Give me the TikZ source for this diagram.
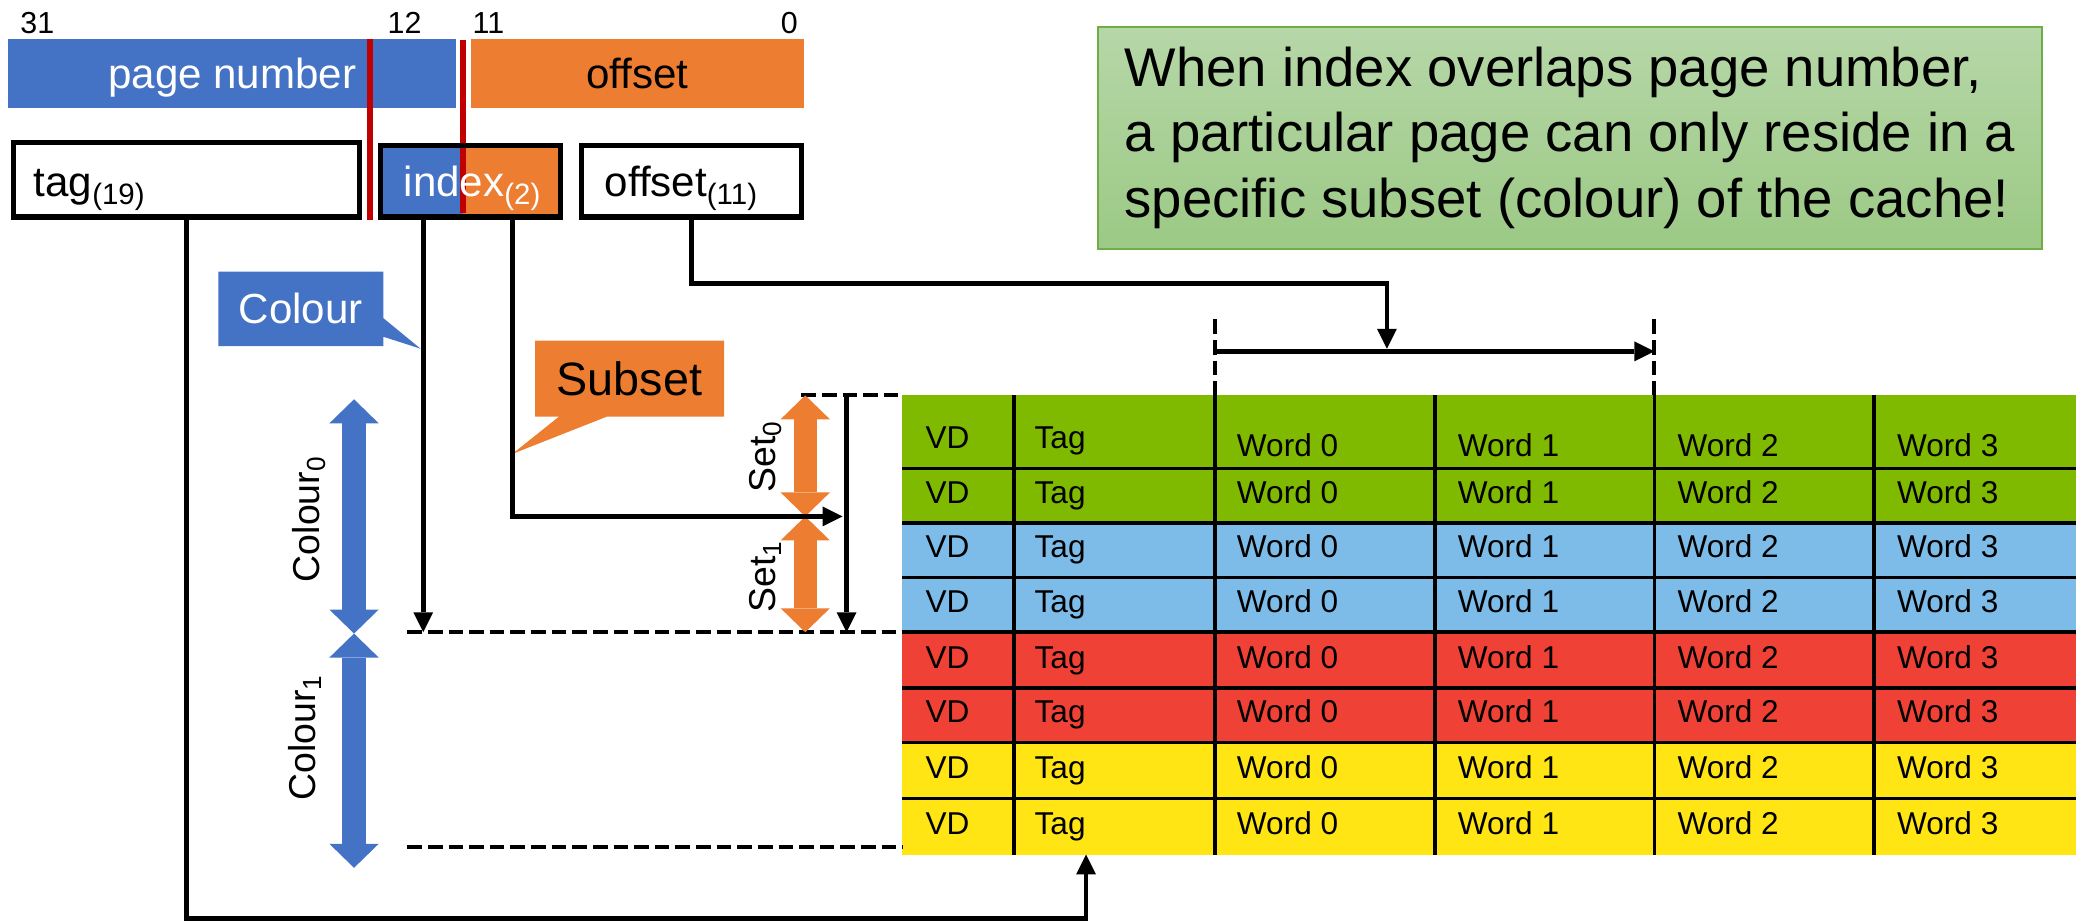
\documentclass[tikz,border=0pt]{standalone}
\usepackage{fontspec}
\setmainfont{Liberation Sans}
\usetikzlibrary{arrows.meta,shapes.callouts}

\definecolor{pageblue}{HTML}{4472C4}
\definecolor{offorange}{HTML}{ED7D31}
\definecolor{splitred}{HTML}{C00000}
\definecolor{rowgreen}{HTML}{7FBA00}
\definecolor{rowblue}{HTML}{7DBCE8}
\definecolor{rowred}{HTML}{EF4136}
\definecolor{rowyellow}{HTML}{FFE514}
\definecolor{notetop}{HTML}{B6D7A8}
\definecolor{notebot}{HTML}{9CC985}
\definecolor{noteline}{HTML}{70AD47}

\begin{document}
\begin{tikzpicture}[x=0.02cm, y=-0.02cm, every node/.style={inner sep=0pt}]
	\tikzstyle{bitno}=[font=\fontsize{13pt}{15pt}\selectfont]
	\tikzstyle{bitbar}=[minimum height=1.04cm, text height=13pt, text depth=0pt, font=\fontsize{18pt}{21pt}\selectfont]
	\tikzstyle{fieldbox}=[draw, line width=2.2pt, minimum height=1.08cm]
	\tikzstyle{fieldtxt}=[anchor=base west, font=\fontsize{18pt}{21pt}\selectfont]
	\tikzstyle{splitline}=[splitred, line width=2.6pt]
	\tikzstyle{conn}=[line width=2pt]
	\tikzstyle{arr}=[-{Triangle[length=0.3cm,width=0.3cm,line width=0pt]}]
	\tikzstyle{guideline}=[line width=1.7pt, dash pattern=on 0.22cm off 0.09cm]
	\tikzstyle{gridline}=[line width=1.5pt]
	\tikzstyle{celltxt}=[anchor=base west, font=\fontsize{13.5pt}{16pt}\selectfont]
	\tikzstyle{spanarrow}=[line width=0.37cm, {Triangle[length=0.36cm,width=0.74cm,line width=0pt]}-{Triangle[length=0.36cm,width=0.74cm,line width=0pt]}]
	\tikzstyle{vlabel}=[rotate=90, font=\fontsize{16pt}{19pt}\selectfont]
	\tikzstyle{tipbox}=[rectangle callout]
	\tikzstyle{notebox}=[draw=noteline, line width=0.8pt, top color=notetop, bottom color=notebot, minimum width=14.18cm, minimum height=3.34cm, align=left, font=\fontsize{23.3pt}{28pt}\selectfont]

	\useasboundingbox (0,0) rectangle (1568,692);

	% address bits
	\node[bitno] (b31) at (28,17) {31};
	\node[bitno] (b12) at (304,17) {12};
	\node[bitno] (b11) at (367,17) {11};
	\node[bitno] (b0) at (593,17) {0};
	\node[bitbar, fill=pageblue, text=white, minimum width=6.74cm] (pagenum) at (174.5,55) {page number};
	\node[bitbar, fill=offorange, minimum width=5cm] (pageoff) at (479,55) {offset};

	% cache address split
	\fill[pageblue] (286,109) rectangle (348,163);
	\fill[offorange] (348,109) rectangle (421,163);
	\draw[splitline] (278,29) -- (278,165);
	\draw[splitline] (348,30) -- (348,160);
	\node[fieldbox, minimum width=5.2cm, minimum height=1.12cm] (tag) at (140,135) {};
	\node[fieldbox, minimum width=2.7cm] (index) at (353.5,136) {};
	\node[fieldbox, minimum width=3.3cm] (offs) at (519.5,136) {};
	\node[fieldtxt] (tagtxt) at (25,148) {tag\textsubscript{(19)}};
	\node[fieldtxt, text=white] (idxtxt) at (303,148) {index\textsubscript{(2)}};
	\node[fieldtxt] (offtxt) at (454,148) {offset\textsubscript{(11)}};

	\node[notebox] (note) at (1179.5,103.5) {When index overlaps page number,\\a particular page can only reside in a\\specific subset (colour) of the cache!};

	% cache lines
	\foreach \r/\ya/\yb/\rc in {1/297/352/rowgreen, 2/352/393/rowgreen, 3/393/434/rowblue, 4/434/475/rowblue, 5/475/517/rowred, 6/517/558/rowred, 7/558/600/rowyellow, 8/600/642/rowyellow}
		\fill[\rc] (678,\ya) rectangle (1560,\yb);
	\foreach \y in {352,393,434,475,517,558,600}
		\draw[gridline] (678,\y) -- (1560,\y);
	\foreach \x in {762,913,1078,1243,1408}
		\draw[gridline] (\x,297) -- (\x,642);
	\foreach \r/\b/\wb in {1/337/343, 2/378/378, 3/419/419, 4/460/460, 5/502/502, 6/543/543, 7/585/585, 8/627/627} {
		\node[celltxt] (vd\r) at (695,\b) {VD};
		\node[celltxt] (tg\r) at (777,\b) {Tag};
		\foreach \w/\x in {0/929, 1/1095, 2/1260, 3/1425}
			\node[celltxt] (wd\r\w) at (\x,\wb) {Word \w};
	}

	% guides
	\draw[guideline] (602,297) -- (678,297);
	\draw[guideline] (306,475) -- (678,475);
	\draw[guideline] (306,636) -- (678,636);
	\draw[guideline] (913,240) -- (913,297);
	\draw[guideline] (1243,240) -- (1243,297);

	% colours and sets
	\draw[spanarrow, pageblue] (266,300) -- (266,476);
	\draw[spanarrow, pageblue] (266,476) -- (266,652);
	\draw[spanarrow, offorange, line width=0.34cm] (605,297) -- (605,388);
	\draw[spanarrow, offorange, line width=0.34cm] (605,388) -- (605,475);
	\node[vlabel] (col0) at (232,390) {Colour\textsubscript{0}};
	\node[vlabel] (col1) at (229,554) {Colour\textsubscript{1}};
	\node[vlabel] (set0) at (575,343) {Set\textsubscript{0}};
	\node[vlabel] (set1) at (575,433) {Set\textsubscript{1}};

	\coordinate (colhit) at (318,475);
	\coordinate (setbend) at (385,388);
	\coordinate (sethit) at (633,388);
	\coordinate (setdrop) at (636,297);
	\coordinate (setend) at (636,475);
	\coordinate (offrun) at (0,213);
	\coordinate (wordhit) at (1042,262);
	\coordinate (wlo) at (913,264);
	\coordinate (whi) at (1243,264);
	\coordinate (bottomrun) at (0,690);
	\coordinate (taghit) at (816,642);

	\node[tipbox, fill=pageblue, text=white, minimum width=2.48cm, minimum height=1.12cm, callout absolute pointer={(316,262)}, callout pointer width=0.28cm, font=\fontsize{18pt}{21pt}\selectfont] (colourtip) at (226,232) {Colour};
	\node[tipbox, fill=offorange, minimum width=2.84cm, minimum height=1.14cm, callout absolute pointer={(385,341)}, callout pointer width=0.72cm, font=\fontsize{20pt}{24pt}\selectfont] (subsettip) at (473,284.5) {Subset};

	% connectors
	\draw[conn, arr] (tag.south) |- (taghit |- bottomrun) -- (taghit);
	\draw[conn, arr] (index.south -| colhit) -- (colhit);
	\draw[conn, arr] (index.south -| setbend) -- (setbend) -- (sethit);
	\draw[conn, arr] (setdrop) -- (setend);
	\draw[conn, arr] (offs.south) |- (wordhit |- offrun) -- (wordhit);
	\draw[conn, arr] (wlo) -- (whi);
\end{tikzpicture}
\end{document}
